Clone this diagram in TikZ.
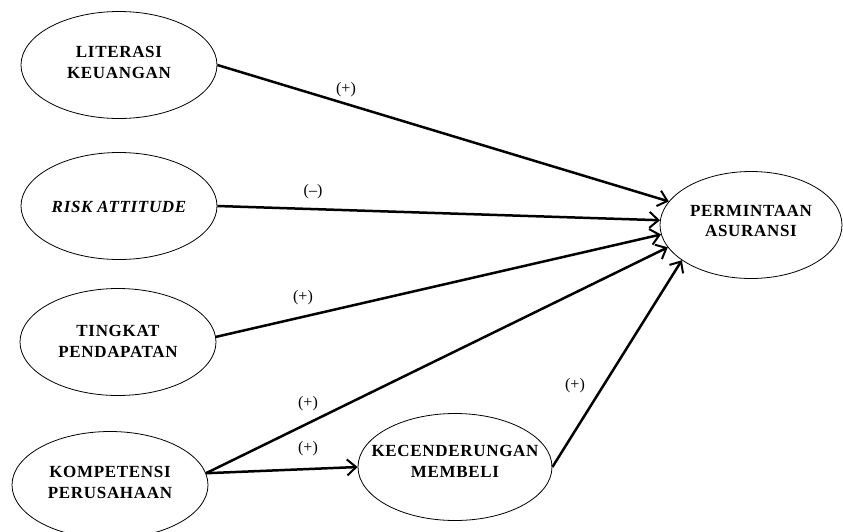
\documentclass[tikz,border=0pt]{standalone}
\usepackage{fontspec}
\setmainfont{Liberation Serif}
\usetikzlibrary{shapes.geometric,arrows.meta}
\newcommand\vartext[2][0pt]{\smash{\makebox[0pt]{\raisebox{#1}{\fontsize{17}{20.5}\selectfont\bfseries\addfontfeature{LetterSpace=4}\begin{tabular}{@{}c@{}}#2\end{tabular}}}}}
\begin{document}
\begin{tikzpicture}[x=1pt,y=-1pt,
  var/.style={ellipse,draw,line width=0.8pt,inner sep=0pt,minimum width=196pt,minimum height=107pt},
  conn/.style={line width=2.5pt,-{Straight Barb[length=9pt,width=16pt,line width=2pt]}},
  sign/.style={font=\fontsize{16}{18}\selectfont,inner sep=0pt}]
\fill[white] (0,0) rectangle (843,531);
\useasboundingbox (0,0) rectangle (843,531);
\clip (0,0) rectangle (843,531);
\node[var] (lit) at (119,65) {\vartext[-3pt]{LITERASI\\KEUANGAN}};
\node[var] (risk) at (119,206) {\vartext[-6.5pt]{\itshape RISK ATTITUDE}};
\node[var] (tin) at (118,342) {\vartext[-5pt]{TINGKAT\\PENDAPATAN}};
\node[var] (komp) at (110,485) {\vartext[-3pt]{KOMPETENSI\\PERUSAHAAN}};
\node[var,minimum width=194pt] (kec) at (455,467) {\vartext{KECENDERUNGAN\\MEMBELI}};
\node[var,minimum width=182pt] (perm) at (751,225) {\vartext[-1.5pt]{PERMINTAAN\\ASURANSI}};
\draw[conn] (lit.east) -- (perm.164);
\draw[conn] (risk.east) -- (perm.177);
\draw[conn] (tin.3) -- (perm.186);
\draw[conn] (komp.7) -- (perm.195);
\draw[conn] (komp.7) -- (kec.west);
\draw[conn] (kec.east) -- (perm.207);
\node[sign] (s1) at (346,90) {(+)};
\node[sign] (s2) at (313,192) {(--)};
\node[sign] (s3) at (303,298) {(+)};
\node[sign] (s4) at (308,404) {(+)};
\node[sign] (s5) at (308,449) {(+)};
\node[sign] (s6) at (575,386) {(+)};
\end{tikzpicture}
\end{document}
